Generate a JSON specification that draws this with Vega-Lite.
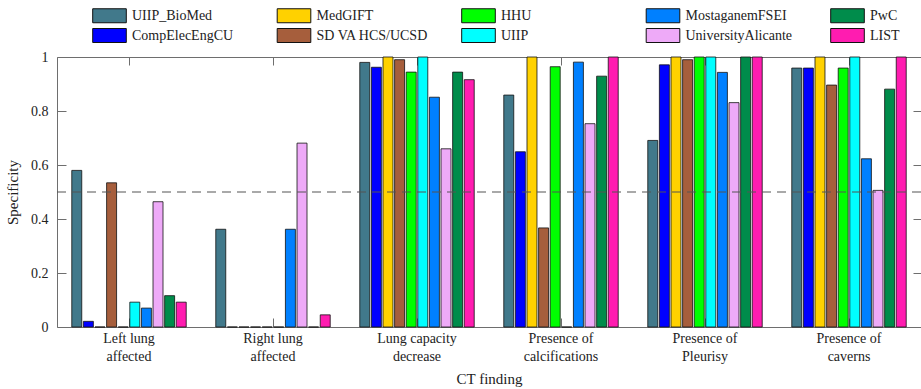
{
  "$schema": "https://vega.github.io/schema/vega-lite/v6.json",
  "width": 864,
  "height": 270,
  "autosize": {"type": "none"},
  "padding": {"left": 57, "top": 57, "right": 0, "bottom": 62},
  "background": "white",
  "config": {
    "font": "Liberation Serif",
    "view": {"stroke": null},
    "axis": {
      "domainColor": "#6e6e6e",
      "tickColor": "#6e6e6e",
      "labelColor": "#222",
      "titleColor": "#222",
      "labelFont": "Liberation Serif",
      "titleFont": "Liberation Serif",
      "labelFontSize": 14,
      "titleFontSize": 15,
      "titleFontWeight": "normal",
      "grid": false
    },
    "legend": {
      "labelFont": "Liberation Serif",
      "labelFontSize": 14,
      "labelColor": "#222"
    }
  },
  "data": {
    "values": [
      {"finding": "Left lung affected", "team": "UIIP_BioMed", "specificity": 0.58},
      {"finding": "Left lung affected", "team": "CompElecEngCU", "specificity": 0.021},
      {"finding": "Left lung affected", "team": "MedGIFT", "specificity": 0},
      {"finding": "Left lung affected", "team": "SD VA HCS/UCSD", "specificity": 0.534},
      {"finding": "Left lung affected", "team": "HHU", "specificity": 0},
      {"finding": "Left lung affected", "team": "UIIP", "specificity": 0.092},
      {"finding": "Left lung affected", "team": "MostaganemFSEI", "specificity": 0.07},
      {"finding": "Left lung affected", "team": "UniversityAlicante", "specificity": 0.464},
      {"finding": "Left lung affected", "team": "PwC", "specificity": 0.116},
      {"finding": "Left lung affected", "team": "LIST", "specificity": 0.092},
      {"finding": "Right lung affected", "team": "UIIP_BioMed", "specificity": 0.362},
      {"finding": "Right lung affected", "team": "CompElecEngCU", "specificity": 0},
      {"finding": "Right lung affected", "team": "MedGIFT", "specificity": 0},
      {"finding": "Right lung affected", "team": "SD VA HCS/UCSD", "specificity": 0},
      {"finding": "Right lung affected", "team": "HHU", "specificity": 0},
      {"finding": "Right lung affected", "team": "UIIP", "specificity": 0},
      {"finding": "Right lung affected", "team": "MostaganemFSEI", "specificity": 0.362},
      {"finding": "Right lung affected", "team": "UniversityAlicante", "specificity": 0.681},
      {"finding": "Right lung affected", "team": "PwC", "specificity": 0},
      {"finding": "Right lung affected", "team": "LIST", "specificity": 0.045},
      {"finding": "Lung capacity decrease", "team": "UIIP_BioMed", "specificity": 0.98},
      {"finding": "Lung capacity decrease", "team": "CompElecEngCU", "specificity": 0.962},
      {"finding": "Lung capacity decrease", "team": "MedGIFT", "specificity": 1.0},
      {"finding": "Lung capacity decrease", "team": "SD VA HCS/UCSD", "specificity": 0.99},
      {"finding": "Lung capacity decrease", "team": "HHU", "specificity": 0.944},
      {"finding": "Lung capacity decrease", "team": "UIIP", "specificity": 1.0},
      {"finding": "Lung capacity decrease", "team": "MostaganemFSEI", "specificity": 0.851},
      {"finding": "Lung capacity decrease", "team": "UniversityAlicante", "specificity": 0.66},
      {"finding": "Lung capacity decrease", "team": "PwC", "specificity": 0.944},
      {"finding": "Lung capacity decrease", "team": "LIST", "specificity": 0.916},
      {"finding": "Presence of calcifications", "team": "UIIP_BioMed", "specificity": 0.859},
      {"finding": "Presence of calcifications", "team": "CompElecEngCU", "specificity": 0.649},
      {"finding": "Presence of calcifications", "team": "MedGIFT", "specificity": 1.0},
      {"finding": "Presence of calcifications", "team": "SD VA HCS/UCSD", "specificity": 0.367},
      {"finding": "Presence of calcifications", "team": "HHU", "specificity": 0.964},
      {"finding": "Presence of calcifications", "team": "UIIP", "specificity": 0},
      {"finding": "Presence of calcifications", "team": "MostaganemFSEI", "specificity": 0.981},
      {"finding": "Presence of calcifications", "team": "UniversityAlicante", "specificity": 0.753},
      {"finding": "Presence of calcifications", "team": "PwC", "specificity": 0.929},
      {"finding": "Presence of calcifications", "team": "LIST", "specificity": 1.0},
      {"finding": "Presence of Pleurisy", "team": "UIIP_BioMed", "specificity": 0.691},
      {"finding": "Presence of Pleurisy", "team": "CompElecEngCU", "specificity": 0.971},
      {"finding": "Presence of Pleurisy", "team": "MedGIFT", "specificity": 1.0},
      {"finding": "Presence of Pleurisy", "team": "SD VA HCS/UCSD", "specificity": 0.99},
      {"finding": "Presence of Pleurisy", "team": "HHU", "specificity": 1.0},
      {"finding": "Presence of Pleurisy", "team": "UIIP", "specificity": 1.0},
      {"finding": "Presence of Pleurisy", "team": "MostaganemFSEI", "specificity": 0.943},
      {"finding": "Presence of Pleurisy", "team": "UniversityAlicante", "specificity": 0.831},
      {"finding": "Presence of Pleurisy", "team": "PwC", "specificity": 1.0},
      {"finding": "Presence of Pleurisy", "team": "LIST", "specificity": 1.0},
      {"finding": "Presence of caverns", "team": "UIIP_BioMed", "specificity": 0.959},
      {"finding": "Presence of caverns", "team": "CompElecEngCU", "specificity": 0.959},
      {"finding": "Presence of caverns", "team": "MedGIFT", "specificity": 1.0},
      {"finding": "Presence of caverns", "team": "SD VA HCS/UCSD", "specificity": 0.896},
      {"finding": "Presence of caverns", "team": "HHU", "specificity": 0.959},
      {"finding": "Presence of caverns", "team": "UIIP", "specificity": 1.0},
      {"finding": "Presence of caverns", "team": "MostaganemFSEI", "specificity": 0.623},
      {"finding": "Presence of caverns", "team": "UniversityAlicante", "specificity": 0.506},
      {"finding": "Presence of caverns", "team": "PwC", "specificity": 0.881},
      {"finding": "Presence of caverns", "team": "LIST", "specificity": 1.0}
    ]
  },
  "resolve": {"axis": {"x": "independent", "y": "independent"}},
  "layer": [
    {
      "mark": {"type": "bar", "stroke": "#111", "strokeWidth": 0.8},
      "encoding": {
        "x": {
          "field": "finding",
          "type": "nominal",
          "sort": null,
          "scale": {"paddingInner": 0.194, "paddingOuter": 0.097},
          "axis": {
            "orient": "bottom",
            "title": "CT finding",
            "labelAngle": 0,
            "tickSize": -9,
            "labelPadding": 13,
            "labelLineHeight": 18,
            "titlePadding": 8,
            "labelExpr": "datum.label == 'Left lung affected' ? ['Left lung', 'affected'] : datum.label == 'Right lung affected' ? ['Right lung', 'affected'] : datum.label == 'Lung capacity decrease' ? ['Lung capacity', 'decrease'] : datum.label == 'Presence of calcifications' ? ['Presence of', 'calcifications'] : datum.label == 'Presence of Pleurisy' ? ['Presence of', 'Pleurisy'] : ['Presence of', 'caverns']"
          }
        },
        "xOffset": {
          "field": "team",
          "type": "nominal",
          "sort": ["UIIP_BioMed", "CompElecEngCU", "MedGIFT", "SD VA HCS/UCSD", "HHU", "UIIP", "MostaganemFSEI", "UniversityAlicante", "PwC", "LIST"],
          "scale": {"paddingInner": 0.14, "paddingOuter": 0.07}
        },
        "y": {
          "field": "specificity",
          "type": "quantitative",
          "scale": {"domain": [0, 1], "nice": false, "zero": true},
          "axis": {
            "orient": "left",
            "title": "Specificity",
            "values": [0, 0.2, 0.4, 0.6, 0.8, 1],
            "labelExpr": "datum.value == 0 ? '0' : datum.value == 1 ? '1' : format(datum.value, '.1f')",
            "tickSize": -9,
            "labelPadding": 18,
            "titlePadding": 10
          }
        },
        "color": {
          "field": "team",
          "type": "nominal",
          "scale": {
            "domain": ["UIIP_BioMed", "MedGIFT", "HHU", "MostaganemFSEI", "PwC", "CompElecEngCU", "SD VA HCS/UCSD", "UIIP", "UniversityAlicante", "LIST"],
            "range": ["#41798b", "#ffd100", "#00ff00", "#0080ff", "#008c4b", "#0000ff", "#a65e3c", "#00ffff", "#eeaaf8", "#ff1cb0"]
          },
          "legend": {
            "title": null,
            "orient": "none",
            "legendX": 45,
            "legendY": -49,
            "columns": 5,
            "direction": "horizontal",
            "gridAlign": "all",
            "columnPadding": 30.5,
            "rowPadding": 1,
            "symbolType": "M-2.4,-1H2.4V1H-2.4Z",
            "symbolSize": 196,
            "symbolStrokeColor": "#111",
            "symbolStrokeWidth": 1,
            "symbolOpacity": 1,
            "labelOffset": 15,
            "labelFont": "Liberation Serif",
            "labelFontSize": 14,
            "encode": {
              "labels": {"update": {"font": {"value": "Liberation Serif"}, "fontSize": {"value": 14}}}
            }
          }
        }
      }
    },
    {
      "data": {"values": [{"threshold": 0.5}]},
      "mark": {"type": "rule", "color": "#555", "strokeWidth": 1.2, "strokeDash": [9, 6]},
      "encoding": {
        "y": {"field": "threshold", "type": "quantitative", "axis": null}
      }
    },
    {
      "mark": {"type": "bar", "opacity": 0},
      "encoding": {
        "x": {
          "field": "finding",
          "type": "nominal",
          "sort": null,
          "axis": {"orient": "top", "title": null, "labels": false, "tickSize": -8}
        },
        "y": {
          "field": "specificity",
          "type": "quantitative",
          "axis": {"orient": "right", "title": null, "labels": false, "values": [0, 0.2, 0.4, 0.6, 0.8, 1], "tickSize": -8}
        }
      }
    }
  ]
}
